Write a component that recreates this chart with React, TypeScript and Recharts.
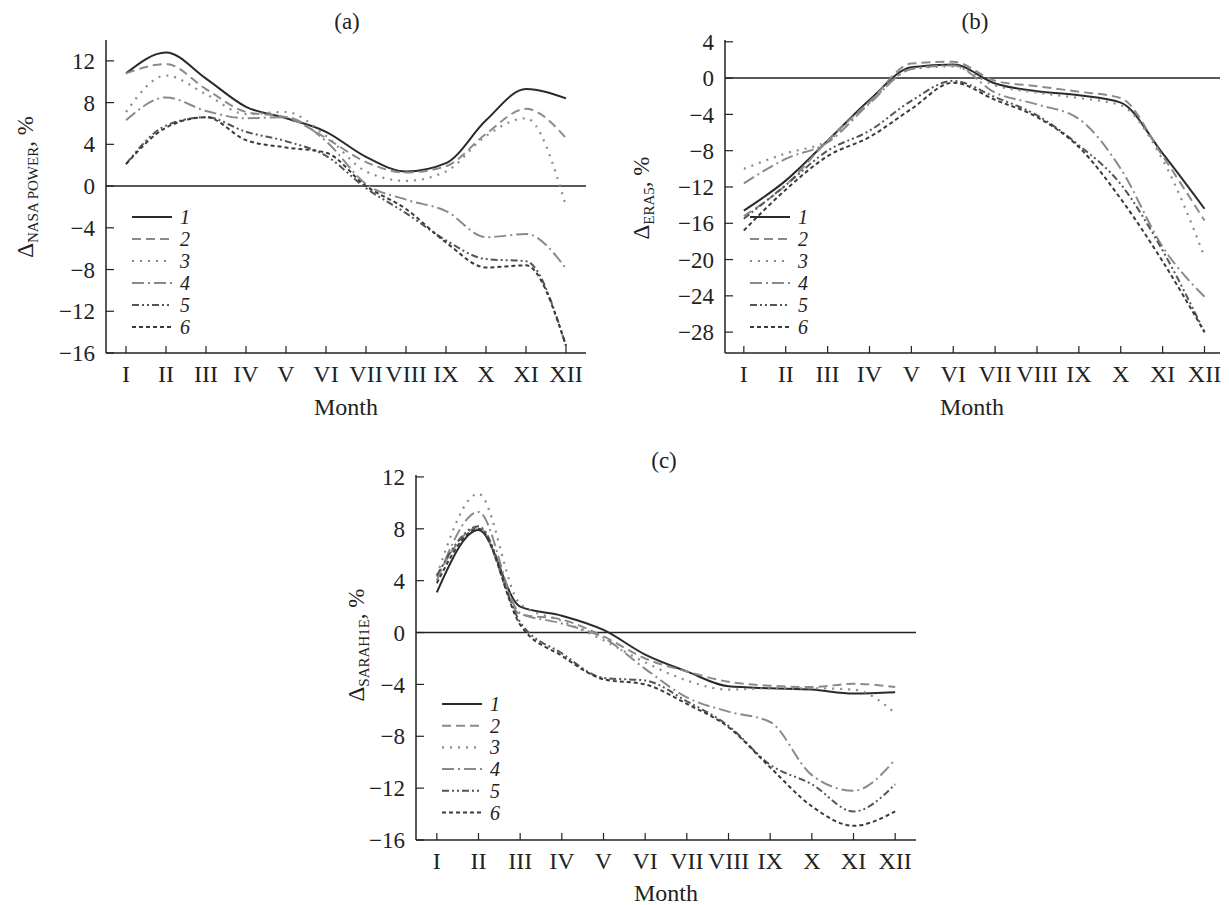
import { LineChart, Line, XAxis, YAxis, ReferenceLine } from 'recharts';

const MONTHS = ['I', 'II', 'III', 'IV', 'V', 'VI', 'VII', 'VIII', 'IX', 'X', 'XI', 'XII'];
const MONTH_NUM = [1, 2, 3, 4, 5, 6, 7, 8, 9, 10, 11, 12];
const LEGEND_NAMES = ['1', '2', '3', '4', '5', '6'];

// (a) NASA POWER
const nasa1 = [10.8, 12.8, 10.3, 7.6, 6.5, 5.2, 2.8, 1.4, 2.2, 6.3, 9.3, 8.4];
const nasa2 = [10.8, 11.7, 9.3, 7.1, 6.6, 4.6, 2.3, 1.3, 1.9, 5.0, 7.4, 4.6];
const nasa3 = [7.1, 10.6, 8.8, 6.9, 7.1, 4.8, 1.4, 0.5, 1.4, 4.8, 6.5, -1.9];
const nasa4 = [6.3, 8.5, 7.2, 6.5, 6.6, 4.3, 0.2, -1.3, -2.4, -4.9, -4.6, -7.9];
const nasa5 = [2.1, 5.8, 6.6, 5.2, 4.3, 2.9, -0.2, -2.6, -5.2, -7.0, -7.2, -15.3];
const nasa6 = [2.1, 5.6, 6.6, 4.4, 3.7, 3.2, 0.0, -2.2, -5.4, -7.8, -7.6, -15.3];

// (b) ERA5
const era1 = [-14.6, -11.3, -6.9, -2.4, 1.2, 1.5, -0.6, -1.45, -1.9, -2.7, -8.3, -14.4];
const era2 = [-15.2, -11.8, -6.9, -2.6, 1.6, 1.8, -0.3, -0.9, -1.5, -2.2, -8.6, -15.7];
const era3 = [-10.0, -8.3, -6.9, -2.7, 1.0, 1.3, -0.8, -1.6, -2.2, -3.0, -9.0, -19.7];
const era4 = [-11.6, -8.9, -7.1, -2.8, 1.0, 1.4, -1.6, -2.9, -4.5, -10.0, -18.6, -24.1];
const era5 = [-15.5, -11.8, -8.0, -5.8, -2.5, -0.3, -2.1, -4.1, -7.4, -11.7, -19.0, -28.0];
const era6 = [-16.8, -12.3, -8.6, -6.5, -3.4, -0.5, -2.4, -4.3, -7.6, -13.3, -20.2, -28.0];

// (c) SARAH1E
const sar1 = [3.1, 7.9, 2.0, 1.3, 0.2, -1.7, -3.0, -4.15, -4.3, -4.4, -4.7, -4.6];
const sar2 = [4.3, 8.1, 1.4, 1.0, -0.3, -2.0, -3.0, -3.8, -4.1, -4.2, -3.95, -4.2];
const sar3 = [4.4, 10.7, 2.2, 0.9, -0.6, -2.3, -3.7, -4.4, -4.3, -4.3, -4.4, -6.2];
const sar4 = [4.0, 9.3, 1.5, 0.7, -0.4, -2.8, -5.0, -6.1, -6.9, -11.0, -12.2, -9.8];
const sar5 = [4.4, 8.2, 0.8, -1.6, -3.5, -3.7, -5.3, -7.2, -10.2, -11.7, -13.8, -11.7];
const sar6 = [3.8, 8.0, 0.6, -1.8, -3.6, -4.0, -5.5, -7.3, -10.4, -13.4, -14.9, -13.8];

const FONT = '"Liberation Serif", "DejaVu Serif", serif';
const INK = '#222';

const STYLES = [
  { stroke: '#2a2a2a', dash: undefined, width: 2 },
  { stroke: '#8a8a8a', dash: '9 5', width: 2 },
  { stroke: '#8a8a8a', dash: '2 6', width: 2.2 },
  { stroke: '#8a8a8a', dash: '12 4 2 4', width: 2 },
  { stroke: '#555', dash: '7 3 2 3 2 3', width: 2 },
  { stroke: '#3a3a3a', dash: '4 3', width: 2 },
];

const buildRows = (series: number[][]) =>
  MONTH_NUM.map((m, i) => {
    const row: any = { m };
    series.forEach((s, k) => {
      row['s' + (k + 1)] = s[i];
    });
    return row;
  });

const fmtY = (v: number) => (v < 0 ? '\u2212' + Math.abs(v) : String(v));

interface PanelProps {
  left: number;
  top: number;
  width: number;
  height: number;
  margin: { top: number; right: number; bottom: number; left: number };
  series: number[][];
  yDomain: [number, number];
  yTicks: number[];
  xDomain: [number, number];
}

const Panel = ({ left, top, width, height, margin, series, yDomain, yTicks, xDomain }: PanelProps) => {
  const rows = buildRows(series);
  return (
    <div style={{ position: 'absolute', left, top }}>
      <LineChart width={width} height={height} data={rows} margin={margin}>
        <XAxis
          dataKey="m"
          type="number"
          domain={xDomain}
          ticks={MONTH_NUM}
          interval={0}
          allowDataOverflow
          tickFormatter={(v: number) => MONTHS[v - 1]}
          height={50}
          tickSize={-7}
          tickMargin={19}
          axisLine={{ stroke: INK, strokeWidth: 1.5 }}
          tickLine={{ stroke: INK, strokeWidth: 1.2 }}
          tick={{ fill: INK, fontSize: 24, fontFamily: FONT }}
        />
        <YAxis
          type="number"
          domain={yDomain}
          ticks={yTicks}
          interval={0}
          allowDataOverflow
          tickFormatter={fmtY}
          width={60}
          tickSize={-8}
          tickMargin={19}
          axisLine={{ stroke: INK, strokeWidth: 1.5 }}
          tickLine={{ stroke: INK, strokeWidth: 1.2 }}
          tick={{ fill: INK, fontSize: 23, fontFamily: FONT }}
        />
        <ReferenceLine y={0} stroke={INK} strokeWidth={1.5} />
        {STYLES.map((st, k) => (
          <Line
            key={k}
            type="monotone"
            dataKey={'s' + (k + 1)}
            stroke={st.stroke}
            strokeWidth={st.width}
            strokeDasharray={st.dash}
            dot={false}
            activeDot={false}
            isAnimationActive={false}
          />
        ))}
      </LineChart>
    </div>
  );
};

// legend rows: first row centred at y = top
const LegendBox = ({ left, top, step }: { left: number; top: number; step: number }) => (
  <svg style={{ position: 'absolute', left, top: top - 16 }} width={80} height={step * 6 + 24}>
    {STYLES.map((st, k) => (
      <g key={k}>
        <line
          x1={0}
          x2={40}
          y1={16 + k * step}
          y2={16 + k * step}
          stroke={st.stroke}
          strokeWidth={st.width}
          strokeDasharray={st.dash}
        />
        <text
          x={48}
          y={16 + k * step + 7}
          fontFamily={FONT}
          fontStyle="italic"
          fontSize={20}
          fill={INK}
        >
          {LEGEND_NAMES[k]}
        </text>
      </g>
    ))}
  </svg>
);

const Txt = ({ x, y, children, size = 23 }: { x: number; y: number; children: any; size?: number }) => (
  <div
    style={{
      position: 'absolute',
      left: x,
      top: y,
      transform: 'translate(-50%, -50%)',
      fontFamily: FONT,
      fontSize: size,
      color: INK,
      whiteSpace: 'nowrap',
      lineHeight: 1,
    }}
  >
    {children}
  </div>
);

const YTitle = ({ x, y, sub }: { x: number; y: number; sub: string }) => (
  <div
    style={{
      position: 'absolute',
      left: x,
      top: y,
      transform: 'translate(-50%, -50%) rotate(-90deg)',
      fontFamily: FONT,
      fontSize: 23,
      color: INK,
      whiteSpace: 'nowrap',
      lineHeight: 1,
    }}
  >
    Δ<span style={{ fontSize: 15, position: 'relative', top: 5 }}>{sub}</span>, %
  </div>
);

export default function App() {
  return (
    <div style={{ position: 'absolute', left: 0, top: 0, width: 1229, height: 905, background: '#fff' }}>
      <Panel
        left={0}
        top={0}
        width={600}
        height={430}
        margin={{ top: 40, right: 14, bottom: 27, left: 46 }}
        series={[nasa1, nasa2, nasa3, nasa4, nasa5, nasa6]}
        yDomain={[-16, 14]}
        yTicks={[-16, -12, -8, -4, 0, 4, 8, 12]}
        xDomain={[0.5, 12.5]}
      />
      <Panel
        left={620}
        top={0}
        width={609}
        height={430}
        margin={{ top: 40, right: 9, bottom: 27, left: 45 }}
        series={[era1, era2, era3, era4, era5, era6]}
        yDomain={[-30.3, 4.2]}
        yTicks={[-28, -24, -20, -16, -12, -8, -4, 0, 4]}
        xDomain={[0.55, 12.37]}
      />
      <Panel
        left={300}
        top={440}
        width={640}
        height={465}
        margin={{ top: 35, right: 24, bottom: 15, left: 56 }}
        series={[sar1, sar2, sar3, sar4, sar5, sar6]}
        yDomain={[-16, 12.15]}
        yTicks={[-16, -12, -8, -4, 0, 4, 8, 12]}
        xDomain={[0.5, 12.5]}
      />

      <LegendBox left={132} top={217} step={22} />
      <LegendBox left={750} top={217} step={22} />
      <LegendBox left={442} top={704} step={21.7} />

      <Txt x={347} y={21}>(a)</Txt>
      <Txt x={975} y={21}>(b)</Txt>
      <Txt x={664} y={460}>(c)</Txt>

      <Txt x={346} y={407} size={24}>Month</Txt>
      <Txt x={972} y={407} size={24}>Month</Txt>
      <Txt x={666} y={893} size={24}>Month</Txt>

      <YTitle x={25} y={187} sub="NASA POWER" />
      <YTitle x={641} y={198} sub="ERA5" />
      <YTitle x={356} y={645} sub="SARAH1E" />
    </div>
  );
}
